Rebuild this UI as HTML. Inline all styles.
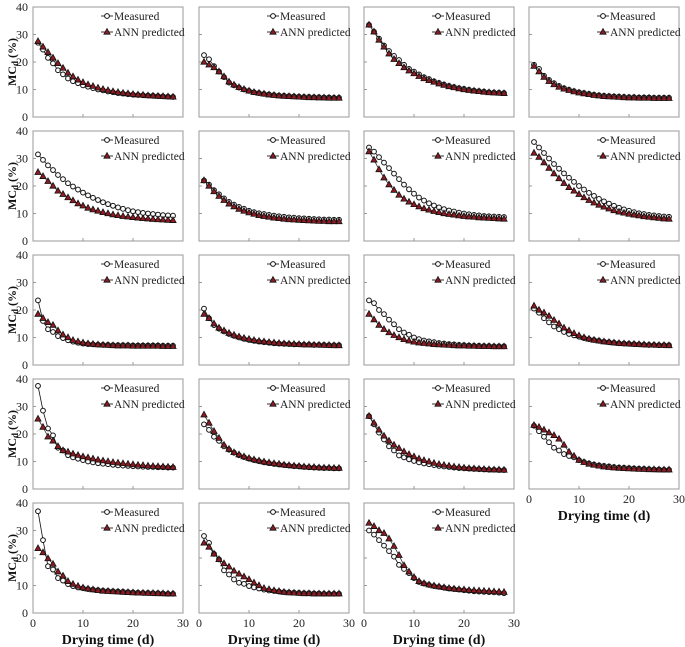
<!DOCTYPE html>
<html><head><meta charset="utf-8"><style>
html,body{margin:0;padding:0;background:#fff;}
svg{display:block;font-family:"Liberation Serif",serif;}
</style></head><body>
<svg id="chart" width="685" height="647" viewBox="0 0 685 647" xmlns="http://www.w3.org/2000/svg"></svg>
<script>
const days=[1,2,3,4,5,6,7,8,9,10,11,12,13,14,15,16,17,18,19,20,21,22,23,24,25,26,27,28];
const yTicks=[0,10,20,30,40];
const xTicks=[0,10,20,30];
const m1=[27,24.5,21.5,19.5,17,15.5,14,13,12.3,11.5,11,10.5,10,9.7,9.3,9,8.7,8.5,8.3,8.1,8,7.9,7.8,7.7,7.6,7.5,7.4,7.3];
const a1=[27.5,25.5,23.5,21.5,19.5,17.8,16,14.7,13.5,12.6,11.8,11.2,10.6,10.1,9.7,9.3,9,8.7,8.5,8.3,8.1,8,7.8,7.7,7.6,7.5,7.4,7.3];
const m2=[22.5,21,18.5,16.5,14.5,12.5,11.5,10.7,10,9.5,9,8.7,8.4,8.2,8,7.8,7.7,7.6,7.5,7.4,7.3,7.3,7.2,7.2,7.1,7.1,7,7];
const a2=[20,19,18,16.5,14.7,12.8,11.7,10.8,10.1,9.5,9,8.7,8.4,8.1,7.9,7.7,7.6,7.5,7.4,7.3,7.2,7.1,7.1,7,7,6.9,6.9,6.9];
const m3=[33.5,31,28.5,26,24,22.2,20.7,19,17.5,16.5,15.5,14.5,13.8,13,12.4,11.8,11.3,10.9,10.5,10.2,9.9,9.6,9.4,9.2,9,8.9,8.8,8.7];
const a3=[33.5,31,28,25.5,23,21,19.5,18,16.8,15.8,14.8,14,13.3,12.7,12.1,11.6,11.1,10.7,10.3,10,9.7,9.5,9.3,9.1,8.9,8.8,8.7,8.6];
const m4=[19,17.5,15,13.5,12.3,11.3,10.5,9.9,9.4,9,8.7,8.4,8.1,7.9,7.7,7.6,7.5,7.4,7.3,7.2,7.2,7.1,7.1,7.1,7,7,7,7];
const a4=[18.5,16.5,14.5,13,11.8,10.9,10.2,9.7,9.2,8.8,8.5,8.2,7.9,7.7,7.5,7.4,7.3,7.2,7.1,7,7,6.9,6.9,6.9,6.8,6.8,6.8,6.8];
const m5=[31.5,29.5,27.5,25.8,24,22.5,21,19.8,18.7,17.6,16.6,15.7,14.9,14.1,13.4,12.8,12.2,11.7,11.2,10.8,10.5,10.2,10,9.8,9.6,9.4,9.3,9.2];
const a5=[25,23.5,21.7,20,18.2,17,15.8,14.7,13.6,12.8,12,11.4,10.9,10.4,10,9.6,9.3,9,8.8,8.6,8.4,8.2,8.1,7.9,7.8,7.7,7.6,7.5];
const m6=[22,20.5,18.5,17,15.5,14.2,13.2,12.4,11.7,11,10.5,10.1,9.8,9.5,9.2,9,8.8,8.6,8.5,8.3,8.2,8.1,8,7.9,7.8,7.8,7.7,7.7];
const a6=[22,20,18,16.3,14.8,13.5,12.5,11.6,10.9,10.3,9.8,9.3,9,8.7,8.4,8.2,8,7.8,7.7,7.6,7.5,7.4,7.3,7.2,7.2,7.1,7.1,7.1];
const m7=[34,32.5,30.5,28.5,26.5,24.5,22.5,20.5,18.8,17.2,15.8,14.7,13.7,12.9,12.2,11.6,11.1,10.7,10.3,10,9.7,9.5,9.3,9.1,9,8.9,8.8,8.7];
const a7=[32.5,29.5,26,23,20.5,18.5,16.7,15.3,14.2,13.3,12.5,11.8,11.3,10.8,10.4,10,9.7,9.5,9.2,9,8.8,8.7,8.5,8.4,8.3,8.2,8.1,8];
const m8=[36,34,32,30,28,26.3,24.6,23,21.5,20,18.7,17.5,16.4,15.3,14.4,13.6,12.8,12.1,11.5,11,10.5,10.1,9.8,9.5,9.3,9.1,8.9,8.8];
const a8=[32,30.5,28.5,26.5,24.5,22.7,21,19.5,18.2,17,15.8,14.8,13.9,13.1,12.4,11.7,11.1,10.6,10.2,9.8,9.5,9.2,8.9,8.7,8.5,8.3,8.1,8];
const m9=[23.5,16,13,12,10.5,9.8,9,8.5,8.1,7.8,7.6,7.5,7.4,7.3,7.3,7.2,7.2,7.2,7.2,7.1,7.1,7.1,7.1,7.1,7.1,7,7,7];
const a9=[18.5,17,15.5,14.5,12.5,11,10,9,8.5,8.1,7.8,7.6,7.4,7.3,7.2,7.1,7,7,7,6.9,6.9,6.9,6.9,6.9,6.9,6.8,6.8,6.8];
const m10=[20.5,17,14.5,13.2,12.2,11.3,10.6,10,9.5,9.1,8.8,8.5,8.3,8.1,7.9,7.8,7.7,7.6,7.5,7.5,7.4,7.4,7.3,7.3,7.3,7.2,7.2,7.2];
const a10=[18.5,17,15,13.5,12.5,11.6,10.9,10.3,9.8,9.4,9,8.7,8.5,8.3,8.1,7.9,7.8,7.7,7.6,7.5,7.4,7.4,7.3,7.3,7.2,7.2,7.1,7.1];
const m11=[23.5,22.5,20,18.5,16.5,14.8,13,11.8,11,10,9.4,8.9,8.6,8.3,8,7.8,7.6,7.5,7.3,7.2,7.1,7,7,6.9,6.9,6.8,6.8,6.8];
const a11=[18.5,16.5,14.5,13,11.8,10.8,10,9.3,8.8,8.4,8.1,7.9,7.7,7.5,7.4,7.3,7.2,7.1,7,7,6.9,6.9,6.8,6.8,6.8,6.7,6.7,6.7];
const m12=[20.5,19,17,15.5,14,13,12,11.3,10.8,10.3,9.8,9.4,9.1,8.8,8.5,8.3,8.1,7.9,7.8,7.7,7.6,7.5,7.4,7.3,7.3,7.2,7.2,7.2];
const a12=[21.5,20,19,17.8,16.3,15,13.5,12.5,11.5,10.7,10,9.5,9.1,8.8,8.5,8.3,8.1,7.9,7.8,7.7,7.6,7.5,7.4,7.3,7.3,7.2,7.2,7.1];
const m13=[37.5,28.5,22,19.5,15,14,12.3,11.5,11,10.5,10,9.7,9.4,9.2,9,8.8,8.6,8.5,8.4,8.3,8.2,8.1,8,8,7.9,7.9,7.8,7.8];
const a13=[25.5,22.5,19,17.5,15.5,14,13.5,12.8,12.3,11.8,11.4,11,10.6,10.3,10,9.7,9.5,9.3,9.1,8.9,8.7,8.6,8.4,8.3,8.2,8.1,8,7.9];
const m14=[23.5,21.5,19,17.5,15.5,14.3,13.2,12.3,11.6,11,10.5,10.1,9.7,9.4,9.1,8.9,8.7,8.5,8.3,8.2,8,7.9,7.8,7.7,7.6,7.6,7.5,7.5];
const a14=[27,24,21,18.5,16,14.5,13.3,12.5,11.8,11.2,10.7,10.3,9.9,9.6,9.3,9.1,8.8,8.6,8.4,8.3,8.1,8,7.9,7.8,7.7,7.7,7.6,7.6];
const m15=[26.5,23.5,20.5,18,15.5,14,12.2,11.5,10.8,10.2,9.7,9.3,9,8.7,8.4,8.2,8,7.8,7.6,7.5,7.4,7.3,7.2,7.1,7,7,6.9,6.9];
const a15=[26.5,24,21.5,19.3,17.5,16,14.8,13.6,12.6,11.8,11,10.4,9.9,9.4,9,8.7,8.4,8.1,7.9,7.7,7.5,7.4,7.3,7.2,7.1,7,7,6.9];
const m16=[23,21,19,17,15,14,12.7,12,11.5,10.5,9.8,9.3,8.9,8.6,8.4,8.2,8,7.8,7.7,7.6,7.5,7.4,7.3,7.2,7.1,7.1,7,7];
const a16=[23.2,22.5,21.5,20.5,19.5,18.2,16,13.5,12,10.5,9.7,9.1,8.7,8.4,8.1,7.9,7.7,7.6,7.5,7.4,7.3,7.2,7.2,7.1,7.1,7,7,7];
const m17=[37,26.5,17,15.8,12.7,11.8,10.5,9.8,9.3,9,8.7,8.5,8.3,8.1,8,7.9,7.8,7.7,7.6,7.5,7.4,7.3,7.3,7.2,7.2,7.1,7,7];
const a17=[23.5,22,19.8,17.8,15,13.5,11.5,10.5,9.8,9.2,8.8,8.5,8.2,8,7.9,7.8,7.7,7.6,7.5,7.4,7.3,7.3,7.2,7.2,7.1,7.1,7,7];
const m18=[28,25.5,21.5,19.5,15.5,14,12.2,11,10.6,9.8,9.3,8.9,8.5,8.2,8,7.8,7.6,7.5,7.4,7.3,7.2,7.2,7.1,7.1,7,7,7,7];
const a18=[25.5,24,21.5,19.5,18,16.8,15.3,14.2,13.2,12.2,11,10,9,8.6,8.2,7.9,7.6,7.4,7.3,7.2,7.1,7.1,7,7,7,7,7,7];
const m19=[30,28.5,26.5,24.5,22.5,20.5,17.5,16,14.5,12.7,11.3,10.7,10.2,9.8,9.5,9.2,8.9,8.7,8.5,8.3,8.1,7.9,7.8,7.7,7.6,7.5,7.4,7.2];
const a19=[32.7,31.5,30,29,27,24.3,21,17.3,15,13,11.5,10.8,10.3,9.9,9.6,9.3,9,8.8,8.6,8.5,8.3,8.2,8.1,8,7.9,7.8,7.7,7.6];
const measured=[m1,m2,m3,m4,m5,m6,m7,m8,m9,m10,m11,m12,m13,m14,m15,m16,m17,m18,m19];
const predicted=[a1,a2,a3,a4,a5,a6,a7,a8,a9,a10,a11,a12,a13,a14,a15,a16,a17,a18,a19];

const NS="http://www.w3.org/2000/svg";
const svg=document.getElementById('chart');
const colL=[33,199,364,529], rowT=[7,131,255,379,503], W=150, H=110;
function mk(tag,attrs,parent){const e=document.createElementNS(NS,tag);for(const k in attrs)e.setAttribute(k,attrs[k]);(parent||svg).appendChild(e);return e;}
function tri(g,x,y){return mk('polygon',{points:`${x},${y-3.4} ${x-3.1},${y+2.2} ${x+3.1},${y+2.2}`,fill:'#8e1a22',stroke:'#111','stroke-width':0.8},g);}

for(let p=0;p<19;p++){
  const r=Math.floor(p/4), c=p%4, x0=colL[c], y0=rowT[r];
  const sx=v=>x0+v/30*W, sy=v=>y0+H-v/40*H;
  const g=mk('g',{});
  
  
  const fr=mk('rect',{x:x0,y:y0,width:W,height:H,fill:'none',stroke:'#999','stroke-width':1},g);
  
  
  yTicks.slice(1,4).forEach(t=>mk('line',{x1:x0,x2:x0+3,y1:sy(t),y2:sy(t),stroke:'#999'},g));
  xTicks.slice(1,3).forEach(t=>mk('line',{x1:sx(t),x2:sx(t),y1:y0+H,y2:y0+H-3,stroke:'#999'},g));
  if(c===0){
    yTicks.forEach(t=>{const tx=mk('text',{x:x0-5,y:sy(t)+4,'text-anchor':'end','font-size':12,fill:'#222'},g);tx.textContent=t;
      
      });
    const yl=mk('text',{x:0,y:0,transform:`translate(16,${y0+H/2}) rotate(-90)`,'text-anchor':'middle','font-size':12,'font-weight':'bold',fill:'#111'},g);
    yl.innerHTML='MC<tspan font-size="9" dy="2">d</tspan><tspan dy="-2"> (%)</tspan>';
    
    
  }
  if(r===4||p===15){
    xTicks.forEach(t=>{const tx=mk('text',{x:sx(t),y:y0+H+14,'text-anchor':'middle','font-size':12,fill:'#222'},g);tx.textContent=t;
      
      });
    const xl=mk('text',{x:x0+W/2,y:y0+H+31,'text-anchor':'middle','font-size':14,'font-weight':'bold',fill:'#111'},g);
    xl.textContent='Drying time (d)';
    
    
  }
  const lm=predicted[p], ms=measured[p];
  mk('polyline',{points:days.map((d,i)=>sx(d)+','+sy(ms[i])).join(' '),fill:'none',stroke:'#111','stroke-width':0.8},g);
  mk('polyline',{points:days.map((d,i)=>sx(d)+','+sy(lm[i])).join(' '),fill:'none',stroke:'#333','stroke-width':0.8},g);
  days.forEach((d,i)=>{const ci=mk('circle',{cx:sx(d),cy:sy(ms[i]),r:2.4,fill:'#fff',stroke:'#111','stroke-width':1},g);
    
    });
  days.forEach((d,i)=>{const t=tri(g,sx(d),sy(lm[i]));
    
    });
  const lg=mk('g',{},g);
  
  
  const lx=x0+68;
  mk('line',{x1:lx,x2:lx+12,y1:y0+9,y2:y0+9,stroke:'#333'},lg);
  mk('circle',{cx:lx+6,cy:y0+9,r:2.4,fill:'#fff',stroke:'#111','stroke-width':1},lg);
  const t1=mk('text',{x:lx+13,y:y0+13,'font-size':11.5,fill:'#222'},lg);t1.textContent='Measured';
  
  
  mk('line',{x1:lx,x2:lx+12,y1:y0+25,y2:y0+25,stroke:'#333'},lg);
  tri(lg,lx+6,y0+25);
  const t2=mk('text',{x:lx+13,y:y0+29,'font-size':11.5,fill:'#222'},lg);t2.textContent='ANN predicted';
  
  
}
</script>
</body></html>
